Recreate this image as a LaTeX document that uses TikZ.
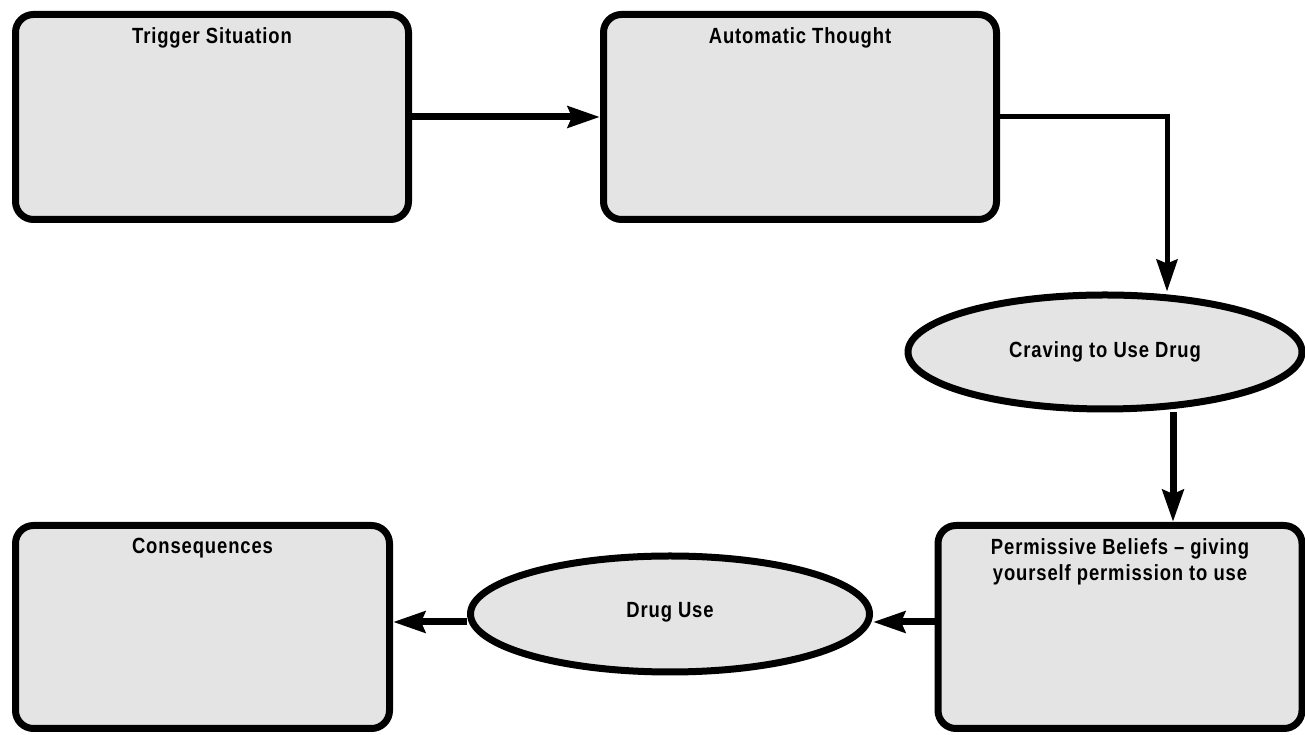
\documentclass[tikz,border=0pt]{standalone}
\usepackage{fontspec}
\setmainfont{Liberation Sans}[FakeStretch=0.84, LetterSpace=4]
\usepackage{tikz}
\usetikzlibrary{shapes, arrows.meta, positioning}

\definecolor{boxgray}{HTML}{E4E4E4}

\begin{document}
\begin{tikzpicture}[node distance=3.76cm, auto, line width=0.14cm,
  font=\fontsize{12.5}{14.8}\selectfont\bfseries]

  % Define styles for the different stages
  \tikzstyle{stage} = [draw, rectangle, rounded corners=0.36cm, fill=boxgray]
  \tikzstyle{feeling} = [draw, ellipse, fill=boxgray, inner sep=0pt]
  \tikzstyle{caption} = [anchor=north, yshift=-0.14cm, align=center]
  \tikzstyle{flow} = [-{Stealth[length=0.64cm, width=0.42cm, inset=0.08cm]}, line width=0.14cm, black]
  \tikzstyle{thin flow} = [flow, line width=0.1cm]

  \useasboundingbox (0,0) rectangle (26.1,14.7);

  \node (trigger) [stage, minimum width=7.86cm, minimum height=4.1cm,
    label={[caption]north:Trigger Situation}] at (4.24,12.36) {};
  \node (thought) [stage, minimum width=7.86cm, minimum height=4.1cm,
    label={[caption]north:Automatic Thought}, right=of trigger] {};
  \node (craving) [feeling, minimum width=7.88cm, minimum height=2.28cm] at (22.1,7.66) {Craving to Use Drug};
  \node (permission) [stage, minimum width=7.28cm, minimum height=4.06cm,
    label={[caption]north:Permissive Beliefs -- giving\\yourself permission to use}] at (22.4,2.16) {};
  \node (druguse) [feeling, minimum width=7.98cm, minimum height=2.32cm] at (13.4,2.42) {\raisebox{0.15cm}{Drug Use}};
  \node (consequences) [stage, minimum width=7.48cm, minimum height=4.06cm,
    label={[caption]north:Consequences}] at (4.05,2.16) {};

  \coordinate (row) at ([yshift=0.1cm]permission.west);

  \draw[flow] (trigger) -- (thought);
  \draw[thin flow] (thought.east) -| ([xshift=1.24cm]craving.north);
  \draw[flow] ([xshift=1.36cm]craving.south) -- ([xshift=1.36cm]craving.south |- permission.north);
  \draw[flow] (row) -- (row -| druguse.east);
  \draw[flow] (row -| druguse.west) -- (row -| consequences.east);

\end{tikzpicture}
\end{document}
